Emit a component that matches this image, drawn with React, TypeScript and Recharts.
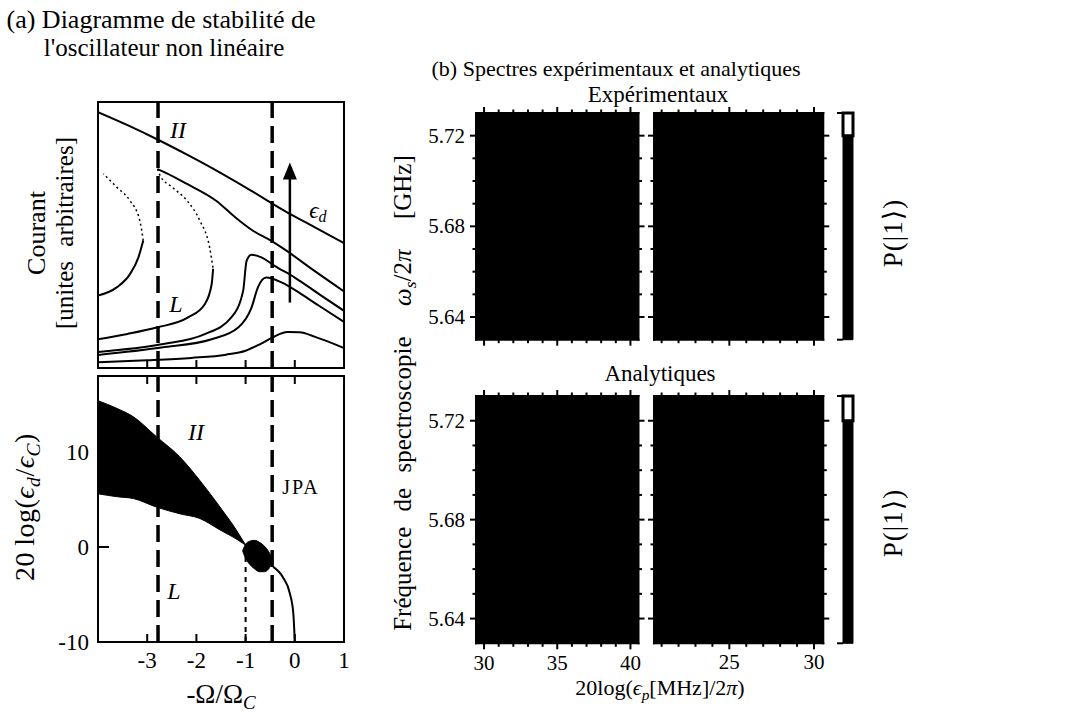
import React from 'react';
import { ComposedChart, BarChart, Bar, Line, Area, XAxis, YAxis, ReferenceLine } from 'recharts';

const FONT = "'Liberation Serif', 'DejaVu Serif', serif";

// ---------- Panel (a), top: response curves (x = -Omega/Omega_C, y = current, arb. units) ----------
const curveII = [[-4, 96.2], [-3.4, 91.3], [-2.8, 86.0], [-2.2, 80.3], [-1.6, 74.3], [-0.9, 66.8], [-0.2, 59.0], [0.4, 53.0], [1, 46.9]];
const curve1Lower = [[-4, 27.2], [-3.62, 30.3], [-3.35, 35.3], [-3.18, 41.5], [-3.08, 47.9]];
const curve1Unstable = [[-3.08, 47.9], [-3.15, 55.4], [-3.35, 62.9], [-3.62, 68.0], [-3.89, 73.0]];
const curve2Upper = [[-2.79, 74.8], [-2.6, 73.2], [-2.2, 69.3], [-1.6, 62.9], [-1.2, 56.5], [-0.85, 51.6], [-0.46, 47.6], [-0.17, 44.1], [0.4, 36.5], [1, 28.8]];
const curve2Unstable = [[-2.79, 74.8], [-2.74, 72.4], [-2.48, 67.8], [-2.19, 62.9], [-1.93, 55.4], [-1.73, 45.2], [-1.66, 37.3]];
const curve2Lower = [[-1.66, 37.3], [-1.69, 31.5], [-1.83, 24.0], [-2.17, 19.0], [-2.81, 15.2], [-3.4, 12.8], [-4, 10.8]];
const curve3 = [[-4, 6.0], [-2.71, 8.9], [-1.83, 12.7], [-1.29, 19.0], [-1.05, 29.0], [-0.98, 40.3], [-0.88, 42.6], [-0.68, 41.6], [-0.41, 38.4], [0, 34.0], [0.5, 27.7], [1, 21.5]];
const curve4 = [[-4, 4.9], [-2.71, 7.7], [-1.69, 10.8], [-1.15, 15.2], [-0.88, 22.7], [-0.75, 30.3], [-0.58, 34.0], [-0.27, 32.2], [0.13, 27.8], [0.5, 23.3], [1, 17.3]];
const curve5 = [[-4, 2.2], [-3, 2.9], [-2.1, 3.8], [-1.4, 5.0], [-1.0, 6.5], [-0.7, 9.0], [-0.45, 11.5], [-0.15, 13.5], [0.1, 13.4], [0.4, 11.8], [1, 7.5]];
const arrowEd = [[-0.1, 24.6], [-0.1, 72]];

// ---------- Panel (a), bottom: stability diagram (y = 20 log(eps_d/eps_C)) ----------
const bistX = [-4, -3.62, -3.28, -2.81, -2.34, -1.93, -1.52, -1.19, -1.0];
const bistUpper = [15.4, 14.6, 13.7, 11.6, 9.5, 7.0, 4.2, 1.8, 0.2];
const bistLower = [5.6, 5.3, 5.1, 4.2, 3.5, 3.0, 1.8, 0.85, 0.2];
const blobX = [-1.06, -1.0, -0.92, -0.82, -0.72, -0.62, -0.53, -0.45];
const blobUpper = [-0.4, 0.3, 0.6, 0.7, 0.5, 0.1, -0.5, -1.4];
const blobLower = [-0.4, -1.2, -1.8, -2.3, -2.6, -2.6, -2.3, -1.5];
const jpaTail = [[-0.44, -2.1], [-0.24, -3.2], [-0.1, -4.9], [-0.03, -7.0], [0, -10]];
const criticalLine = [[-1, -10], [-1, 0]];
const dashedX = [-2.78, -0.46];
const aDomainX = [-4, 1];
const aTopDomainY = [0, 100];
const aBotDomainY = [-10, 18];
const aTickX = [-3, -2, -1, 0, 1];
const aInnerTickX = [-3, -2, -1, 0];
const aTickY = [-10, 0, 10];
const aInnerTickY = [0, 10];

// ---------- Panel (b): spectra ----------
const specY = [5.63, 5.73];
const specYTicks = [5.64, 5.65, 5.66, 5.67, 5.68, 5.69, 5.70, 5.71, 5.72];
const specYMajors = [5.64, 5.68, 5.72];
const leftX = [29.45, 40.55];
const leftXTicks = [30, 31, 32, 33, 34, 35, 36, 37, 38, 39, 40];
const leftXMajors = [30, 35, 40];
const rightX = [20.55, 30.55];
const rightXTicks = [21, 22, 23, 24, 25, 26, 27, 28, 29, 30];
const rightXMajors = [25, 30];
const cbTicks = [0, 0.5];
const cbBlack = 0.45;
const cbWhite = 0.05;

const P = 70;
const pts = (a: number[][]) => a.map(([x, y]) => ({ x, y }));
const rng = (xs: number[], lo: number[], hi: number[]) => xs.map((x, i) => ({ x, r: [lo[i], hi[i]] }));
const near = (a: number, b: number) => Math.abs(a - b) < 1e-6;

// every axis is given a size of 1 px, the margin absorbs the rest of the padding
function frame(x0: number, y0: number, x1: number, y1: number, hAxes = true) {
  const v = hAxes ? 1 : 0;
  return {
    style: { position: 'absolute' as const, left: x0 - P, top: y0 - P },
    width: x1 - x0 + 2 * P,
    height: y1 - y0 + 2 * P,
    margin: { top: P - v, right: P - 1, bottom: P - v, left: P - 1 },
  };
}

type TickOpt = {
  side: 'bottom' | 'top' | 'left' | 'right';
  inward?: boolean;
  len?: number;
  minorLen?: number;
  majors?: number[];
  lineAt?: number[];
  label?: boolean;
  fmt?: (v: number) => string;
  size?: number;
  gap?: number;
};

function mkTick(o: TickOpt) {
  return (p: any) => {
    const { x, y, payload } = p;
    const v = Number(payload?.value);
    const major = !o.majors || o.majors.some((m) => near(m, v));
    const draw = !o.lineAt || o.lineAt.some((m) => near(m, v));
    const L = major ? (o.len ?? 6) : (o.minorLen ?? 3);
    const s = o.inward ? -1 : 1;
    let x2 = x, y2 = y;
    if (o.side === 'bottom') y2 = y + s * L;
    else if (o.side === 'top') y2 = y - s * L;
    else if (o.side === 'left') x2 = x - s * L;
    else x2 = x + s * L;
    const g = o.gap ?? 8;
    const common = { fill: '#000', fontFamily: FONT, fontSize: o.size ?? 20 };
    let label: any = null;
    if (o.label && major) {
      const txt = o.fmt ? o.fmt(v) : String(v);
      if (o.side === 'bottom') label = <text x={x} y={y + g} textAnchor="middle" dominantBaseline="hanging" {...common}>{txt}</text>;
      else if (o.side === 'left') label = <text x={x - g} y={y} textAnchor="end" dominantBaseline="central" {...common}>{txt}</text>;
      else if (o.side === 'right') label = <text x={x + g} y={y} textAnchor="start" dominantBaseline="central" {...common}>{txt}</text>;
      else label = <text x={x} y={y - g} textAnchor="middle" {...common}>{txt}</text>;
    }
    return (
      <g>
        {draw && L > 0 ? <line x1={x} y1={y} x2={x2} y2={y2} stroke="#000" strokeWidth={2} /> : null}
        {label}
      </g>
    );
  };
}

const axisLine = { stroke: '#000', strokeWidth: 2, strokeLinecap: 'square' as const };
const noTick = mkTick({ side: 'top', len: 0 });

function Txt({ x, y, size = 22, rot = 0, italic = false, children, style }: any) {
  return (
    <div
      style={{
        position: 'absolute', left: x, top: y, transform: `translate(-50%, -50%) rotate(${rot}deg)`,
        fontSize: size, fontFamily: FONT, whiteSpace: 'nowrap', lineHeight: 1, color: '#000',
        fontStyle: italic ? 'italic' : 'normal', ...style,
      }}
    >
      {children}
    </div>
  );
}
const Sub = ({ children }: any) => <span style={{ fontSize: '0.7em', verticalAlign: '-0.3em' }}>{children}</span>;
const I = ({ children }: any) => <span style={{ fontStyle: 'italic' }}>{children}</span>;

const lineProps = { xAxisId: 'b', yAxisId: 'l', dataKey: 'y', dot: false, isAnimationActive: false, stroke: '#000', strokeWidth: 2, type: 'monotone' as const };

function arrowHead(p: any) {
  if (p.index !== arrowEd.length - 1) return <g key={`ah${p.index}`} />;
  return <polygon key="ah" points={`${p.cx},${p.cy - 14} ${p.cx - 7},${p.cy + 3} ${p.cx + 7},${p.cy + 3}`} fill="#000" />;
}

function PanelATop() {
  const f = frame(98, 101.7, 344, 367.7);
  return (
    <div style={f.style}>
      <ComposedChart width={f.width} height={f.height} margin={f.margin}>
        <XAxis xAxisId="b" dataKey="x" type="number" domain={aDomainX} allowDataOverflow ticks={aInnerTickX} interval={0} height={1} tickSize={0} tickMargin={0} tickLine={false} axisLine={axisLine} tick={mkTick({ side: 'bottom', inward: true, len: 8 })} />
        <XAxis xAxisId="t" orientation="top" dataKey="x" type="number" domain={aDomainX} allowDataOverflow ticks={aInnerTickX} interval={0} height={1} tickSize={0} tickMargin={0} tickLine={false} axisLine={axisLine} tick={noTick} />
        <YAxis yAxisId="l" type="number" domain={aTopDomainY} allowDataOverflow ticks={[50]} width={1} tickSize={0} tickMargin={0} tickLine={false} axisLine={axisLine} tick={noTick} />
        <YAxis yAxisId="r" orientation="right" type="number" domain={aTopDomainY} allowDataOverflow ticks={[50]} width={1} tickSize={0} tickMargin={0} tickLine={false} axisLine={axisLine} tick={noTick} />
        {dashedX.map((x) => (
          <ReferenceLine key={x} xAxisId="b" yAxisId="l" x={x} stroke="#000" strokeWidth={3.5} strokeDasharray="17 8" />
        ))}
        <Line {...lineProps} data={pts(curveII)} />
        <Line {...lineProps} data={pts(curve1Lower)} />
        <Line {...lineProps} data={pts(curve1Unstable)} strokeWidth={1.5} strokeDasharray="2 3" />
        <Line {...lineProps} data={pts(curve2Upper)} />
        <Line {...lineProps} data={pts(curve2Unstable)} strokeWidth={1.5} strokeDasharray="2 3" />
        <Line {...lineProps} data={pts(curve2Lower)} />
        <Line {...lineProps} data={pts(curve3)} />
        <Line {...lineProps} data={pts(curve4)} />
        <Line {...lineProps} data={pts(curve5)} />
        <Line {...lineProps} data={pts(arrowEd)} type="linear" strokeWidth={2.5} dot={arrowHead} />
      </ComposedChart>
    </div>
  );
}

function PanelABottom() {
  const f = frame(98, 376, 344, 642);
  return (
    <div style={f.style}>
      <ComposedChart width={f.width} height={f.height} margin={f.margin}>
        <XAxis xAxisId="b" dataKey="x" type="number" domain={aDomainX} allowDataOverflow ticks={aTickX} interval={0} height={1} tickSize={0} tickMargin={0} tickLine={false} axisLine={axisLine}
          tick={mkTick({ side: 'bottom', inward: true, len: 8, lineAt: aInnerTickX, label: true, size: 23, gap: 10 })} />
        <XAxis xAxisId="t" orientation="top" dataKey="x" type="number" domain={aDomainX} allowDataOverflow ticks={aInnerTickX} interval={0} height={1} tickSize={0} tickMargin={0} tickLine={false} axisLine={axisLine}
          tick={mkTick({ side: 'top', inward: true, len: 8 })} />
        <YAxis yAxisId="l" type="number" domain={aBotDomainY} allowDataOverflow ticks={aTickY} interval={0} width={1} tickSize={0} tickMargin={0} tickLine={false} axisLine={axisLine}
          tick={mkTick({ side: 'left', inward: true, len: 11, lineAt: aInnerTickY, label: true, size: 23, gap: 9 })} />
        <YAxis yAxisId="r" orientation="right" type="number" domain={aBotDomainY} allowDataOverflow ticks={[0]} width={1} tickSize={0} tickMargin={0} tickLine={false} axisLine={axisLine} tick={noTick} />
        <Area xAxisId="b" yAxisId="l" data={rng(bistX, bistLower, bistUpper)} dataKey="r" type="monotone" fill="#000" fillOpacity={1} stroke="#000" strokeWidth={1} isAnimationActive={false} />
        <Area xAxisId="b" yAxisId="l" data={rng(blobX, blobLower, blobUpper)} dataKey="r" type="monotone" fill="#000" fillOpacity={1} stroke="#000" strokeWidth={1} isAnimationActive={false} />
        <Line {...lineProps} data={pts(jpaTail)} />
        <Line {...lineProps} data={pts(criticalLine)} type="linear" strokeDasharray="5 5" />
        {dashedX.map((x) => (
          <ReferenceLine key={x} xAxisId="b" yAxisId="l" x={x} stroke="#000" strokeWidth={3.5} strokeDasharray="17 8" />
        ))}
      </ComposedChart>
    </div>
  );
}

function Spectrum({ x0, x1, y0, y1, xd, xt, xm, xLabels, yLabels }: any) {
  const f = frame(x0, y0, x1, y1);
  const heat = [{ x: xd[0], r: specY }, { x: xd[1], r: specY }];
  return (
    <div style={f.style}>
      <ComposedChart width={f.width} height={f.height} margin={f.margin}>
        <XAxis xAxisId="b" dataKey="x" type="number" domain={xd} allowDataOverflow ticks={xt} interval={0} height={1} tickSize={0} tickMargin={0} tickLine={false} axisLine={axisLine}
          tick={mkTick({ side: 'bottom', len: 6, minorLen: 3.5, majors: xm, label: xLabels, size: 21, gap: 11 })} />
        <XAxis xAxisId="t" orientation="top" dataKey="x" type="number" domain={xd} allowDataOverflow ticks={xt} interval={0} height={1} tickSize={0} tickMargin={0} tickLine={false} axisLine={axisLine}
          tick={mkTick({ side: 'top', len: 6, minorLen: 3.5, majors: xm })} />
        <YAxis yAxisId="l" type="number" domain={specY} allowDataOverflow ticks={specYTicks} interval={0} width={1} tickSize={0} tickMargin={0} tickLine={false} axisLine={axisLine}
          tick={mkTick({ side: 'left', len: 6, minorLen: 3.5, majors: specYMajors, label: yLabels, size: 21, gap: 11, fmt: (v) => v.toFixed(2) })} />
        <YAxis yAxisId="r" orientation="right" type="number" domain={specY} allowDataOverflow ticks={specYTicks} interval={0} width={1} tickSize={0} tickMargin={0} tickLine={false} axisLine={axisLine}
          tick={mkTick({ side: 'right', len: 6, minorLen: 3.5, majors: specYMajors })} />
        <Area xAxisId="b" yAxisId="l" data={heat} dataKey="r" type="linear" fill="#000" fillOpacity={1} stroke="#000" strokeWidth={1} isAnimationActive={false} />
      </ComposedChart>
    </div>
  );
}

function ColorBar({ y0, y1 }: any) {
  const f = frame(843.3, y0, 853.3, y1, false);
  const data = [{ k: 'P', black: cbBlack, white: cbWhite }];
  return (
    <div style={f.style}>
      <BarChart width={f.width} height={f.height} margin={f.margin} data={data} barCategoryGap={0} barGap={0}>
        <XAxis dataKey="k" type="category" hide />
        <YAxis yAxisId="l" type="number" domain={[0, 0.5]} ticks={cbTicks} interval={0} width={1} tickSize={0} tickMargin={0} tickLine={false} axisLine={false}
          tick={mkTick({ side: 'left', len: 6 })} />
        <YAxis yAxisId="r" orientation="right" type="number" domain={[0, 0.5]} ticks={cbTicks} interval={0} width={1} tickSize={0} tickMargin={0} tickLine={false} axisLine={false}
          tick={mkTick({ side: 'right', len: 5, label: true, size: 21, gap: 13, fmt: (v) => v.toFixed(1) })} />
        <Bar yAxisId="l" dataKey="black" stackId="s" fill="#000" stroke="#000" strokeWidth={1} isAnimationActive={false} />
        <Bar yAxisId="l" dataKey="white" stackId="s" fill="#fff" stroke="#000" strokeWidth={3} isAnimationActive={false} />
      </BarChart>
    </div>
  );
}

export default function App() {
  return (
    <div style={{ position: 'absolute', left: 0, top: 0, width: 1066, height: 715, background: '#fff', overflow: 'hidden' }}>
      <Txt x={161} y={20} size={26}>(a) Diagramme de stabilité de</Txt>
      <Txt x={164} y={47} size={25}>l'oscillateur non linéaire</Txt>
      <Txt x={616} y={69} size={22}>(b) Spectres expérimentaux et analytiques</Txt>

      <PanelATop />
      <PanelABottom />

      <Spectrum x0={476} x1={638.5} y0={113.3} y1={340} xd={leftX} xt={leftXTicks} xm={leftXMajors} xLabels={false} yLabels={true} />
      <Spectrum x0={654} x1={823.3} y0={113.3} y1={340} xd={rightX} xt={rightXTicks} xm={rightXMajors} xLabels={false} yLabels={false} />
      <Spectrum x0={476} x1={638.5} y0={396} y1={643.3} xd={leftX} xt={leftXTicks} xm={leftXMajors} xLabels={true} yLabels={true} />
      <Spectrum x0={654} x1={823.3} y0={396} y1={643.3} xd={rightX} xt={rightXTicks} xm={rightXMajors} xLabels={true} yLabels={false} />
      <ColorBar y0={113.3} y1={340} />
      <ColorBar y0={396} y1={643.3} />

      {/* panel (a) axis titles and annotations */}
      <Txt x={37} y={233} size={26} rot={-90}>Courant</Txt>
      <Txt x={64} y={233} size={25} rot={-90} style={{ wordSpacing: 8 }}>[unites arbitraires]</Txt>
      <Txt x={27} y={507} size={28} rot={-90} style={{ letterSpacing: 0.5 }}>20&#8201;log(<I>ϵ</I><Sub><I>d</I></Sub>/<I>ϵ</I><Sub><I>C</I></Sub>)</Txt>
      <Txt x={221} y={697} size={27}>-Ω/Ω<Sub><I>C</I></Sub></Txt>
      <Txt x={178} y={130} size={24} italic>II</Txt>
      <Txt x={176} y={304} size={24} italic>L</Txt>
      <Txt x={318} y={212} size={23}><I>ϵ</I><Sub><I>d</I></Sub></Txt>
      <Txt x={196} y={432} size={24} italic>II</Txt>
      <Txt x={301} y={487} size={20} style={{ letterSpacing: 2 }}>JPA</Txt>
      <Txt x={174} y={591} size={24} italic>L</Txt>

      {/* panel (b) titles */}
      <Txt x={658} y={94} size={23}>Expérimentaux</Txt>
      <Txt x={660} y={373} size={23}>Analytiques</Txt>
      <Txt x={405} y={393} size={25} rot={-90} style={{ wordSpacing: 9 }}>Fréquence de spectroscopie &nbsp;<I>ω</I><Sub><I>s</I></Sub>/2<I>π</I> &nbsp;[GHz]</Txt>
      <Txt x={660} y={690} size={22}>20log(<I>ϵ</I><Sub><I>p</I></Sub>[MHz]/2<I>π</I>)</Txt>
      <Txt x={893} y={233} size={27} rot={-90} style={{ letterSpacing: 1 }}>P(|1⟩)</Txt>
      <Txt x={893} y={523} size={27} rot={-90} style={{ letterSpacing: 1 }}>P(|1⟩)</Txt>
    </div>
  );
}
